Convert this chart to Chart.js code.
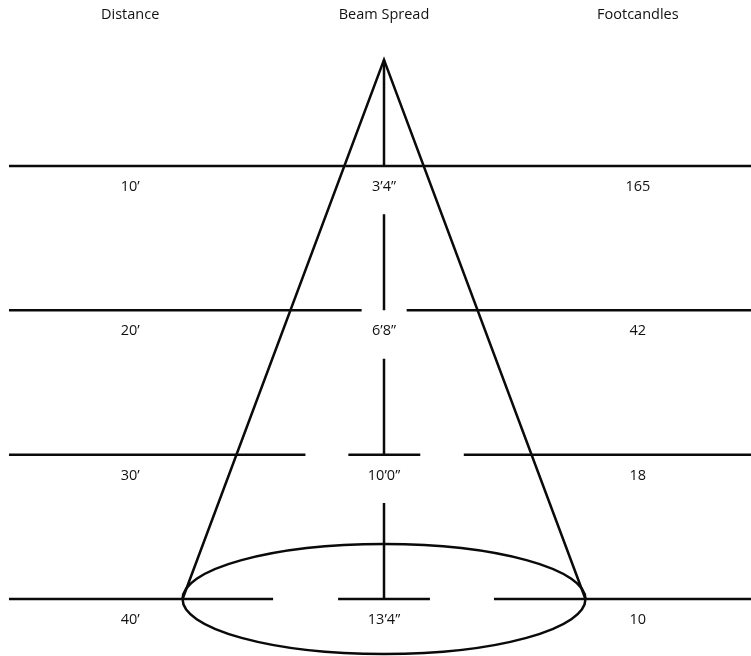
<!DOCTYPE html>
<html>
<head>
<meta charset="utf-8">
<script src="https://cdn.jsdelivr.net/npm/chart.js@4"></script>
<style>
  html, body { margin: 0; padding: 0; background: #fff; }
  #wrap { width: 751px; height: 656px; }
</style>
</head>
<body>
<div id="wrap"><canvas id="beamChart" width="751" height="656"></canvas></div>
<script>
// === Data ===
const distances = [10, 20, 30, 40];                      // feet
const distanceLabels = ['10\u2019', '20\u2019', '30\u2019', '40\u2019'];
const spreadFeet = [3.333, 6.667, 10, 13.333];          // beam diameter, feet
const spreadLabels = ['3\u20194\u201D', '6\u20198\u201D', '10\u20190\u201D', '13\u20194\u201D'];
const footcandles = [165, 42, 18, 10];
const headers = ['Distance', 'Beam Spread', 'Footcandles'];

// === Drawing setup (layout only) ===
const apexDistance = 2.65;     // where the cone tip sits above the first row
const labelClear = 3.35;       // centre line resumes this far under a label
const lineLeft = -12.41;
const lineRight = 12.5;
const columnX = [-8.4, 0, 8.4];
const rowGaps = [
  [],
  [[-0.74, 0.75]],
  [[-2.6, -1.18], [1.2, 2.64]],
  [[-3.67, -1.52], [1.52, 3.64]]
];
const ink = '#0a0a0a';
const lineW = 2.5;

// horizontal row lines, broken where the gaps are
const rowPoints = [];
distances.forEach((d, i) => {
  let start = lineLeft;
  rowGaps[i].forEach(([a, b]) => {
    rowPoints.push({ x: start, y: d }, { x: a, y: d }, { x: a, y: null });
    start = b;
  });
  rowPoints.push({ x: start, y: d }, { x: lineRight, y: d }, { x: lineRight, y: null });
});

// centre line, from the tip down, broken under each label
const centrePoints = [];
distances.forEach((d, i) => {
  const top = i === 0 ? apexDistance : distances[i - 1] + labelClear;
  centrePoints.push({ x: 0, y: top }, { x: 0, y: d }, { x: 0, y: null });
});

// cone sides, tip to the edge of the last beam
const lastHalf = spreadFeet[spreadFeet.length - 1] / 2;
const lastDist = distances[distances.length - 1];
const conePoints = [
  { x: -lastHalf, y: lastDist },
  { x: 0, y: apexDistance },
  { x: lastHalf, y: lastDist }
];

const lineSet = (pts) => ({
  data: pts,
  showLine: true,
  borderColor: ink,
  borderWidth: lineW,
  pointRadius: 0,
  spanGaps: false,
  tension: 0
});

// ellipse at the foot of the cone + all text
const beamPlugin = {
  id: 'beamPlugin',
  afterDatasetsDraw(chart) {
    const { ctx, scales: { x, y } } = chart;
    ctx.save();

    // beam footprint ellipse
    const cx = x.getPixelForValue(0);
    const cy = y.getPixelForValue(lastDist);
    const rx = x.getPixelForValue(lastHalf) - cx;
    const ry = y.getPixelForValue(lastDist + 3.81) - cy;
    ctx.beginPath();
    ctx.ellipse(cx, cy, rx, ry, 0, 0, Math.PI * 2);
    ctx.strokeStyle = ink;
    ctx.lineWidth = lineW;
    ctx.stroke();

    // text
    ctx.fillStyle = '#111';
    ctx.font = '14.5px "Open Sans", sans-serif';
    ctx.textAlign = 'center';
    ctx.textBaseline = 'middle';
    headers.forEach((h, i) => {
      ctx.fillText(h, x.getPixelForValue(columnX[i]), y.getPixelForValue(-0.46));
    });
    distances.forEach((d, i) => {
      const ty = y.getPixelForValue(d + 1.45);
      ctx.fillText(distanceLabels[i], x.getPixelForValue(columnX[0]), ty);
      ctx.fillText(spreadLabels[i], x.getPixelForValue(columnX[1]), ty);
      ctx.fillText(String(footcandles[i]), x.getPixelForValue(columnX[2]), ty);
    });
    ctx.restore();
  }
};

document.addEventListener('DOMContentLoaded', function () {
  const ctx = document.getElementById('beamChart');
  new Chart(ctx, {
    type: 'scatter',
    data: {
      datasets: [lineSet(rowPoints), lineSet(centrePoints), lineSet(conePoints)]
    },
    options: {
      responsive: false,
      animation: false,
      events: [],
      layout: { padding: 0 },
      plugins: {
        legend: { display: false },
        tooltip: { enabled: false }
      },
      scales: {
        x: { type: 'linear', min: -12.707, max: 12.144, display: false },
        y: { type: 'linear', min: -1.5, max: 43.95, reverse: true, display: false }
      }
    },
    plugins: [beamPlugin]
  });
});
</script>
</body>
</html>
